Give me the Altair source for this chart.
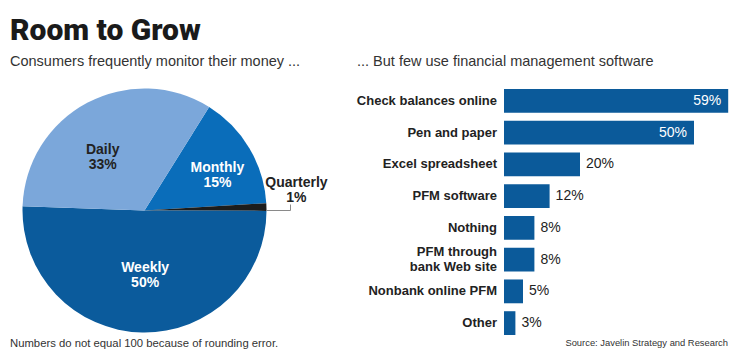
import math
import altair as alt
import pandas as pd

# ---------------- data ----------------
title_text = "Room to Grow"
left_subtitle = "Consumers frequently monitor their money ..."
right_subtitle = "... But few use financial management software"
footnote = "Numbers do not equal 100 because of rounding error."
source_text = "Source: Javelin Strategy and Research"

freq_names = ["Monthly", "Quarterly", "Weekly", "Daily"]
freq_pct = [15, 1, 50, 33]

tool_names = [
    "Check balances online",
    "Pen and paper",
    "Excel spreadsheet",
    "PFM software",
    "Nothing",
    "PFM through bank Web site",
    "Nonbank online PFM",
    "Other",
]
tool_labels = [
    "Check balances online",
    "Pen and paper",
    "Excel spreadsheet",
    "PFM software",
    "Nothing",
    "PFM through|bank Web site",
    "Nonbank online PFM",
    "Other",
]
tool_pct = [59, 50, 20, 12, 8, 8, 5, 3]

# ---------------- styling ----------------
FONT = "Liberation Sans"
TITLE_FONT = "Roboto"
DARK = "#222222"
BAR_BLUE = "#0b5a9a"
pie_colors = ["#0a6dba", "#1c1c1c", "#0b5b9c", "#7ba7da"]

W, H = 724, 341
CX, CY, R = 136.5, 202.5, 122
START = math.radians(32)
LH = 15.2

pie_df = pd.DataFrame({"freq": freq_names, "pct": freq_pct, "ord": list(range(len(freq_names)))})
bar_df = pd.DataFrame({"tool": tool_names, "label": tool_labels, "pct": tool_pct})

theta = alt.Theta("pct:Q", stack=True,
                  scale=alt.Scale(range=[START, START + 2 * math.pi]))
order = alt.Order("ord:Q")

pie_base = alt.Chart(pie_df)

arcs = pie_base.mark_arc(radius=R).encode(
    theta=theta,
    order=order,
    color=alt.Color("freq:N", scale=alt.Scale(domain=freq_names, range=pie_colors), legend=None),
    x=alt.value(CX),
    y=alt.value(CY),
)


def slice_label(name, radius, dx, dy, color):
    return pie_base.transform_calculate(
        lbl=f"datum.freq == '{name}' ? datum.freq + '|' + datum.pct + '%' : ''"
    ).mark_text(
        radius=radius, dx=dx, dy=dy, lineBreak="|", lineHeight=LH, fontSize=14,
        fontWeight="bold", font=FONT, color=color
    ).encode(
        theta=theta,
        order=order,
        detail="freq:N",
        text="lbl:N",
        x=alt.value(CX),
        y=alt.value(CY),
    )


lab_daily = slice_label("Daily", 72, -8, 3, DARK)
lab_monthly = slice_label("Monthly", 72, 11, -6, "white")
lab_weekly = slice_label("Weekly", 72, 2, -14.5, "white")
lab_quarter = slice_label("Quarterly", 152, 0, -23, DARK)

one = pd.DataFrame({"k": [0]})
leader_h = alt.Chart(one).mark_rule(color="#8a8a8a", strokeWidth=1).encode(
    x=alt.value(258), x2=alt.value(282.5), y=alt.value(202.5))
leader_v = alt.Chart(one).mark_rule(color="#8a8a8a", strokeWidth=1).encode(
    x=alt.value(282.5), y=alt.value(196.5), y2=alt.value(202.5))

# ---------------- bars ----------------
xs = alt.X("pct:Q", scale=alt.Scale(domain=[0, 59], range=[496, 720.2], nice=False, zero=True), axis=None)
ys = alt.Y("tool:N", scale=alt.Scale(domain=tool_names, range=[77, 331], paddingInner=0.25, paddingOuter=0.125), axis=None)

bar_base = alt.Chart(bar_df)
bars = bar_base.mark_bar(color=BAR_BLUE).encode(x=xs, y=ys)

val_in = bar_base.transform_filter("datum.pct >= 50").transform_calculate(
    t="datum.pct + '%'"
).mark_text(align="right", dx=-7, fontSize=14, font=FONT, color="white").encode(
    x=xs, y=ys, text="t:N")

val_out = bar_base.transform_filter("datum.pct < 50").transform_calculate(
    t="datum.pct + '%'"
).mark_text(align="left", dx=6, fontSize=14, font=FONT, color=DARK).encode(
    x=xs, y=ys, text="t:N")

cat_single = bar_base.transform_filter("indexof(datum.label, '|') < 0").mark_text(
    align="right", dx=-7, fontSize=13, fontWeight="bold", font=FONT, color=DARK
).encode(x=alt.datum(0), y=ys, text="label:N")

cat_multi = bar_base.transform_filter("indexof(datum.label, '|') >= 0").mark_text(
    align="right", dx=-7, dy=-7.5, fontSize=13, fontWeight="bold", font=FONT, color=DARK,
    lineBreak="|", lineHeight=15
).encode(x=alt.datum(0), y=ys, text="label:N")


# ---------------- static texts ----------------
def static_text(txt, x, y, **kw):
    return alt.Chart(pd.DataFrame({"t": [txt]})).mark_text(
        baseline="alphabetic", **kw
    ).encode(x=alt.value(x), y=alt.value(y), text="t:N")


title = static_text(title_text, 2, 32, align="left", fontSize=30, fontWeight=900,
                    font=TITLE_FONT, color="#1a1a1a")
sub_l = static_text(left_subtitle, 2, 58, align="left", fontSize=14.5, font=FONT, color="#333333")
sub_r = static_text(right_subtitle, 349, 58, align="left", fontSize=14.5, font=FONT, color="#333333")
foot = static_text(footnote, 2, 339, align="left", fontSize=11.3, font=FONT, color="#333333")
src = static_text(source_text, 720, 338, align="right", fontSize=9.4, font=FONT, color="#333333")

chart = alt.layer(
    arcs, lab_daily, lab_monthly, lab_weekly, lab_quarter, leader_h, leader_v,
    bars, val_in, val_out, cat_single, cat_multi,
    title, sub_l, sub_r, foot, src,
).properties(
    width=W, height=H,
    autosize=alt.AutoSizeParams(type="none"),
    padding=0,
).configure_view(stroke=None)

chart.save("out.html", embed_options={"renderer": "svg", "actions": False})
